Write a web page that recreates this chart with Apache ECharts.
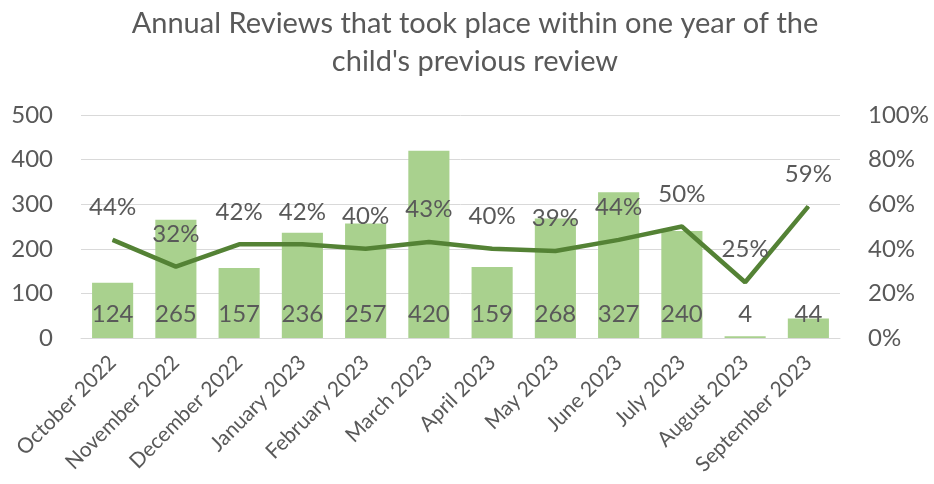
<!DOCTYPE html>
<html>
<head>
<meta charset="utf-8">
<script src="https://cdn.jsdelivr.net/npm/echarts@6/dist/echarts.min.js"></script>
<style>
  html, body { margin: 0; padding: 0; background: #fff; }
  #chart { width: 934px; height: 484px; }
</style>
</head>
<body>
<div id="chart"></div>
<script>
var months = ['October 2022', 'November 2022', 'December 2022', 'January 2023', 'February 2023', 'March 2023',
  'April 2023', 'May 2023', 'June 2023', 'July 2023', 'August 2023', 'September 2023'];
var reviews = [124, 265, 157, 236, 257, 420, 159, 268, 327, 240, 4, 44];
var withinYear = [44, 32, 42, 42, 40, 43, 40, 39, 44, 50, 25, 59];

var font = 'Lato, "Open Sans", sans-serif';
var grey = '#595959';

var myChart = echarts.init(document.getElementById('chart'));
var option = {
  textStyle: { fontFamily: font },
  title: {
    text: 'Annual Reviews that took place within one year of the\nchild\'s previous review',
    left: 470,
    textAlign: 'center',
    top: 0,
    textStyle: {
      color: grey,
      fontFamily: font,
      fontSize: 29,
      fontWeight: 'normal',
      lineHeight: 38
    }
  },
  grid: { left: 81, right: 94, top: 115, bottom: 146 },
  xAxis: {
    type: 'category',
    data: months,
    axisLine: { lineStyle: { color: '#d9d9d9', width: 1 } },
    axisTick: { show: false },
    axisLabel: {
      rotate: 45,
      interval: 0,
      color: grey,
      fontSize: 21,
      fontFamily: font,
      margin: 21
    }
  },
  yAxis: [
    {
      type: 'value',
      min: 0,
      max: 500,
      interval: 100,
      axisLine: { show: false },
      axisTick: { show: false },
      axisLabel: { color: grey, fontSize: 24, fontFamily: font, margin: 28 },
      splitLine: { lineStyle: { color: '#d9d9d9', width: 1 } }
    },
    {
      type: 'value',
      min: 0,
      max: 100,
      interval: 20,
      axisLine: { show: false },
      axisTick: { show: false },
      axisLabel: { color: grey, fontSize: 24, fontFamily: font, margin: 28, formatter: '{value}%' },
      splitLine: { show: false }
    }
  ],
  series: [
    {
      type: 'bar',
      data: reviews,
      barCategoryGap: '35%',
      itemStyle: { color: '#a9d18e' },
      label: {
        show: true,
        position: 'insideBottom',
        distance: 12,
        color: grey,
        fontSize: 24,
        fontFamily: font
      },
      silent: true
    },
    {
      type: 'line',
      yAxisIndex: 1,
      data: withinYear,
      symbol: 'circle',
      symbolSize: 1,
      itemStyle: { color: '#548235' },
      lineStyle: { color: '#548235', width: 4.5 },
      label: {
        show: true,
        position: 'top',
        distance: 20,
        color: grey,
        fontSize: 24,
        fontFamily: font,
        formatter: '{c}%'
      },
      silent: true
    }
  ],
  animation: false
};
myChart.setOption(option);
</script>
</body>
</html>
